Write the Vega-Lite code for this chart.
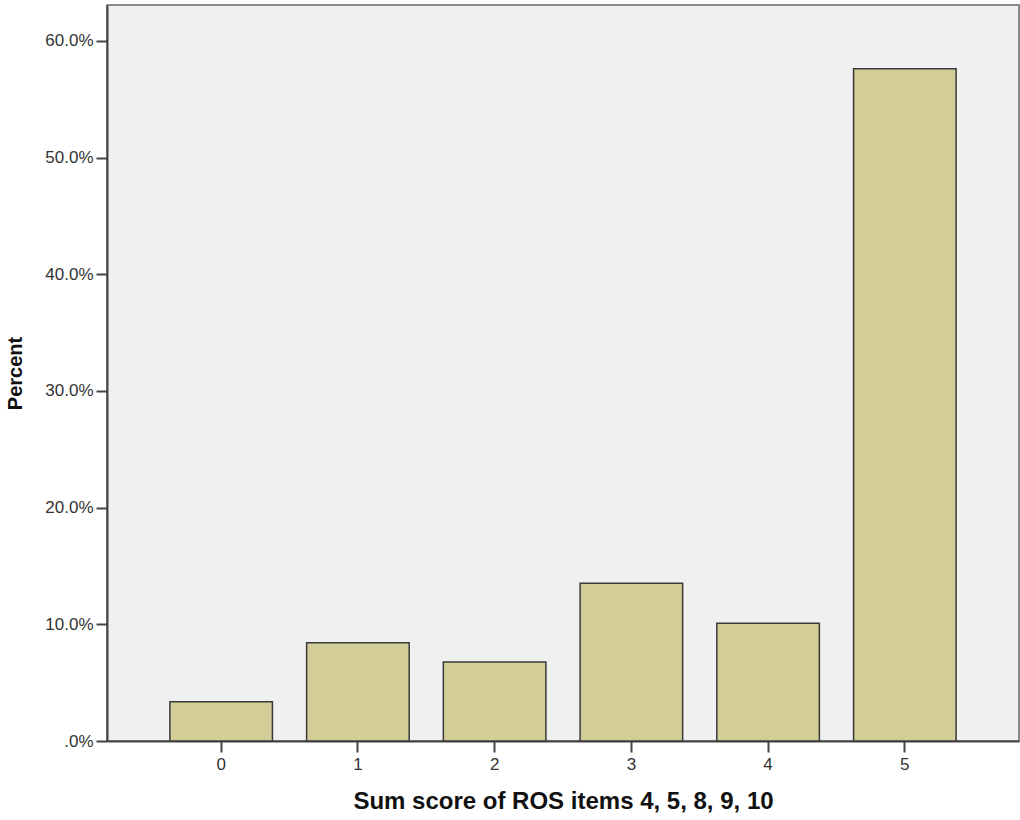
{
  "$schema": "https://vega.github.io/schema/vega-lite/v6.json",
  "width": 912,
  "height": 736,
  "autosize": "none",
  "padding": {"left": 107, "top": 5, "right": 1, "bottom": 79},
  "background": "#ffffff",
  "config": {
    "font": "Liberation Sans",
    "view": {"fill": "#f0f0f0", "stroke": "#666666", "strokeWidth": 1.5}
  },
  "data": {
    "values": [
      {"score": "0", "percent": 3.37},
      {"score": "1", "percent": 8.42},
      {"score": "2", "percent": 6.77},
      {"score": "3", "percent": 13.51},
      {"score": "4", "percent": 10.1},
      {"score": "5", "percent": 57.6}
    ]
  },
  "mark": {"type": "bar", "fill": "#d3ce97", "stroke": "#3a3a3a", "strokeWidth": 1.5},
  "encoding": {
    "x": {
      "field": "score",
      "type": "ordinal",
      "scale": {"paddingInner": 0.25, "paddingOuter": 0.46},
      "axis": {
        "title": "Sum score of ROS items 4, 5, 8, 9, 10",
        "titleFontSize": 24,
        "titleFontWeight": "bold",
        "titleColor": "#111111",
        "titlePadding": 17,
        "labelAngle": 0,
        "labelFontSize": 17,
        "labelColor": "#333333",
        "labelPadding": 4,
        "tickSize": 11,
        "tickWidth": 2,
        "tickColor": "#444444",
        "domainColor": "#444444",
        "domainWidth": 2,
        "grid": false
      }
    },
    "y": {
      "field": "percent",
      "type": "quantitative",
      "scale": {"domain": [0, 63.07], "nice": false, "zero": true},
      "axis": {
        "title": "Percent",
        "titleFontSize": 20,
        "titleFontWeight": "bold",
        "titleColor": "#111111",
        "titlePadding": 19,
        "values": [0, 10, 20, 30, 40, 50, 60],
        "labelExpr": "datum.value == 0 ? '.0%' : format(datum.value, '.1f') + '%'",
        "labelFontSize": 17,
        "labelColor": "#333333",
        "labelPadding": 3,
        "tickSize": 11,
        "tickWidth": 2,
        "tickColor": "#444444",
        "domainColor": "#444444",
        "domainWidth": 2,
        "grid": false
      }
    }
  }
}
